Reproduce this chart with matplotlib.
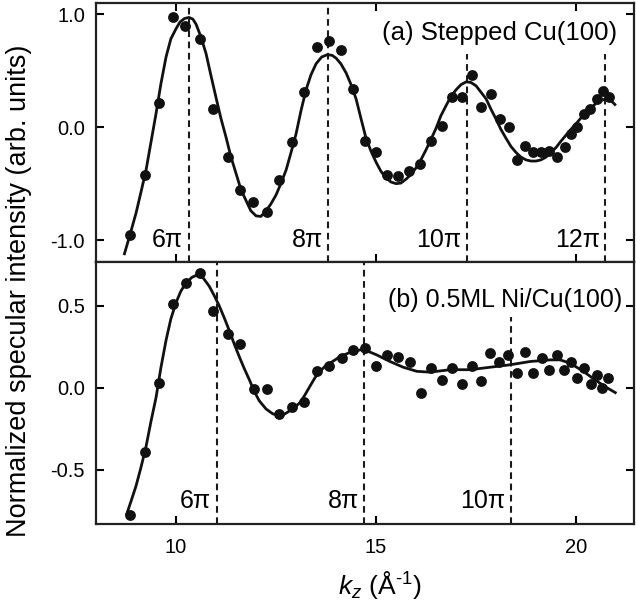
import matplotlib
matplotlib.use('Agg')
import matplotlib.pyplot as plt

plt.rcParams['font.family'] = ['Liberation Sans', 'DejaVu Sans']
plt.rcParams['mathtext.fontset'] = 'custom'
plt.rcParams['mathtext.rm'] = 'Liberation Sans'
plt.rcParams['mathtext.it'] = 'Liberation Sans:italic'

# (a) stepped Cu(100): measured points
ka = [8.86, 9.22, 9.57, 9.92, 10.23, 10.6, 10.92, 11.3, 11.6, 11.93,
      12.27, 12.58, 12.89, 13.2, 13.52, 13.82, 14.12, 14.43, 14.73, 15.0,
      15.28, 15.56, 15.83, 16.1, 16.37, 16.64, 16.89, 17.14, 17.39, 17.62,
      17.87, 18.1, 18.33, 18.53, 18.73, 18.92, 19.13, 19.33, 19.53, 19.73,
      19.88, 20.03, 20.21, 20.35, 20.52, 20.68, 20.83]
ia = [-0.95, -0.42, 0.21, 0.97, 0.89, 0.78, 0.16, -0.26, -0.56, -0.66,
      -0.75, -0.47, -0.13, 0.31, 0.71, 0.76, 0.68, 0.34, -0.12, -0.22,
      -0.42, -0.43, -0.39, -0.33, -0.12, 0.01, 0.27, 0.27, 0.46, 0.18,
      0.29, 0.07, 0.0, -0.29, -0.17, -0.22, -0.22, -0.21, -0.26, -0.18,
      -0.06, 0.0, 0.12, 0.16, 0.25, 0.32, 0.27]
# (a) fitted curve
ka_fit = [8.71, 8.85, 9.0, 9.12, 9.25, 9.37, 9.5, 9.62, 9.75, 9.87,
          10.0, 10.1, 10.21, 10.32, 10.42, 10.5, 10.62, 10.75, 10.87, 11.0,
          11.12, 11.25, 11.37, 11.5, 11.62, 11.75, 11.87, 12.0, 12.12, 12.25,
          12.37, 12.5, 12.62, 12.75, 12.87, 13.0, 13.12, 13.25, 13.37, 13.5,
          13.64, 13.78, 13.9, 14.0, 14.12, 14.25, 14.37, 14.5, 14.62, 14.75,
          14.87, 15.0, 15.12, 15.25, 15.37, 15.5, 15.62, 15.75, 15.87, 16.0,
          16.12, 16.25, 16.37, 16.5, 16.62, 16.75, 16.87, 17.0, 17.12, 17.25,
          17.37, 17.5, 17.62, 17.75, 17.87, 18.0, 18.12, 18.25, 18.37, 18.5,
          18.62, 18.75, 18.87, 19.0, 19.12, 19.25, 19.37, 19.5, 19.62, 19.75,
          19.87, 20.0, 20.12, 20.25, 20.37, 20.5, 20.62, 20.75, 20.87, 20.97]
ia_fit = [-1.12, -0.95, -0.76, -0.58, -0.38, -0.14, 0.12, 0.38, 0.62, 0.78,
          0.87, 0.93, 0.96, 0.97, 0.955, 0.91, 0.8, 0.65, 0.46, 0.26,
          0.08, -0.09, -0.26, -0.41, -0.55, -0.65, -0.74, -0.785, -0.79, -0.74,
          -0.68, -0.6, -0.5, -0.38, -0.23, -0.06, 0.14, 0.33, 0.46, 0.56,
          0.62, 0.64, 0.635, 0.61, 0.56, 0.48, 0.38, 0.25, 0.08, -0.1,
          -0.21, -0.31, -0.39, -0.45, -0.485, -0.5, -0.495, -0.46, -0.42, -0.36,
          -0.29, -0.2, -0.11, -0.01, 0.1, 0.19, 0.27, 0.33, 0.375, 0.40,
          0.395, 0.365, 0.31, 0.25, 0.16, 0.07, -0.02, -0.1, -0.17, -0.225,
          -0.265, -0.29, -0.3, -0.3, -0.29, -0.265, -0.225, -0.18, -0.125, -0.07,
          -0.02, 0.03, 0.08, 0.13, 0.17, 0.21, 0.235, 0.25, 0.235, 0.20]

# (b) 0.5ML Ni/Cu(100): measured points
kb = [8.86, 9.22, 9.57, 9.92, 10.25, 10.61, 10.93, 11.29, 11.6, 11.94,
      12.27, 12.58, 12.9, 13.2, 13.52, 13.82, 14.14, 14.43, 14.73, 15.0,
      15.28, 15.56, 15.85, 16.12, 16.38, 16.64, 16.89, 17.14, 17.39, 17.62,
      17.85, 18.08, 18.31, 18.53, 18.73, 18.93, 19.14, 19.33, 19.52, 19.7,
      19.88, 20.03, 20.21, 20.37, 20.52, 20.66, 20.79]
ib = [-0.78, -0.39, 0.03, 0.51, 0.64, 0.70, 0.47, 0.33, 0.27, -0.01,
      -0.01, -0.16, -0.12, -0.09, 0.10, 0.13, 0.18, 0.23, 0.24, 0.13,
      0.20, 0.19, 0.16, -0.03, 0.12, 0.05, 0.12, 0.02, 0.13, 0.04,
      0.21, 0.16, 0.20, 0.09, 0.22, 0.09, 0.18, 0.11, 0.20, 0.11,
      0.16, 0.06, 0.12, 0.02, 0.08, 0.0, 0.06]
kb_fit = [8.77, 8.88, 9.0, 9.12, 9.25, 9.37, 9.5, 9.62, 9.75, 9.87,
          10.0, 10.12, 10.25, 10.4, 10.54, 10.68, 10.83, 10.95, 11.08, 11.2,
          11.33, 11.45, 11.58, 11.7, 11.83, 11.95, 12.08, 12.25, 12.42, 12.6,
          12.72, 12.85, 12.97, 13.1, 13.22, 13.35, 13.47, 13.6, 13.72, 13.85,
          14.1, 14.39, 14.68, 15.02, 15.35, 15.68, 16.02, 16.35, 16.85,
          17.35, 17.85, 18.35, 18.85, 19.35, 19.6, 19.85, 20.18, 20.52, 20.77, 20.98]
ib_fit = [-0.77, -0.69, -0.6, -0.49, -0.36, -0.21, -0.06, 0.12, 0.29, 0.42,
          0.52, 0.59, 0.64, 0.675, 0.69, 0.67, 0.62, 0.565, 0.50, 0.43,
          0.35, 0.27, 0.19, 0.12, 0.05, -0.02, -0.08, -0.13, -0.16, -0.17,
          -0.16, -0.14, -0.12, -0.09, -0.045, 0.01, 0.06, 0.10, 0.13, 0.15,
          0.19, 0.22, 0.235, 0.20, 0.16, 0.125, 0.10, 0.095, 0.11,
          0.11, 0.125, 0.14, 0.16, 0.17, 0.17, 0.15, 0.10, 0.04, 0.0, -0.03]

# n*pi markers
pi_a = [10.32, 13.81, 17.27, 20.73]
pi_a_top = [1.2, 1.2, 0.65, 0.65]
pi_a_lab = ['6π', '8π', '10π', '12π']
pi_b = [11.02, 14.71, 18.38]
pi_b_top = [0.9, 0.9, 0.43]
pi_b_lab = ['6π', '8π', '10π']

xlim = (8.0, 21.45)
ylim_a = (-1.19, 1.097)
ylim_b = (-0.835, 0.77)

fig = plt.figure(figsize=(6.36, 6.09), dpi=100)
ax1 = fig.add_axes([0.151, 0.5703, 0.846, 0.4247])
ax2 = fig.add_axes([0.151, 0.139, 0.846, 0.4313])

for ax, k, y, kf, yf, pk, ptop, plab, ylim, ylab in [
        (ax1, ka, ia, ka_fit, ia_fit, pi_a, pi_a_top, pi_a_lab, ylim_a, -1.0),
        (ax2, kb, ib, kb_fit, ib_fit, pi_b, pi_b_top, pi_b_lab, ylim_b, -0.69)]:
    ax.vlines(pk, ylim[0], ptop, colors='#1a1a1a', linestyles=(0, (3.2, 2.2)), lw=1.5)
    for p, lab in zip(pk, plab):
        ax.text(p - 0.14, ylab, lab, ha='right', va='center', fontsize=18)
    ax.plot(kf, yf, '-', color='#111111', lw=2.0, zorder=3)
    ax.plot(k, y, 'o', color='#111111', ms=7.8, mec='none', zorder=4)
    ax.set_xlim(*xlim)
    ax.set_ylim(*ylim)
    ax.set_xticks([10, 15, 20])
    for s in ax.spines.values():
        s.set_linewidth(1.6)
        s.set_color('#222222')

ax1.set_yticks([-1.0, 0.0, 1.0])
ax1.set_yticklabels(['-1.0', '0.0', '1.0'])
ax1.tick_params(direction='in', length=6, width=1.5, top=True, right=True,
                labelbottom=False, labelsize=14.5, pad=8)
ax1.text(0.968, 0.884, '(a) Stepped Cu(100)', transform=ax1.transAxes,
         ha='right', va='center', fontsize=18.5)

ax2.set_yticks([-0.5, 0.0, 0.5])
ax2.set_yticklabels(['-0.5', '0.0', '0.5'])
ax2.tick_params(direction='in', length=6, width=1.5, top=False, right=True,
                labelsize=14.5, pad=8)
ax2.tick_params(axis='x', pad=10)
ax2.text(0.978, 0.854, '(b) 0.5ML Ni/Cu(100)', transform=ax2.transAxes,
         ha='right', va='center', fontsize=18)

fig.text(0.030, 0.522, 'Normalized specular intensity (arb. units)',
         rotation=90, ha='center', va='center', fontsize=19.5)
fig.text(0.597, 0.039, r'$k_z$ (Å$^{\text{-1}}$)', ha='center', va='center', fontsize=19)

fig.savefig('out.png', dpi=100)
